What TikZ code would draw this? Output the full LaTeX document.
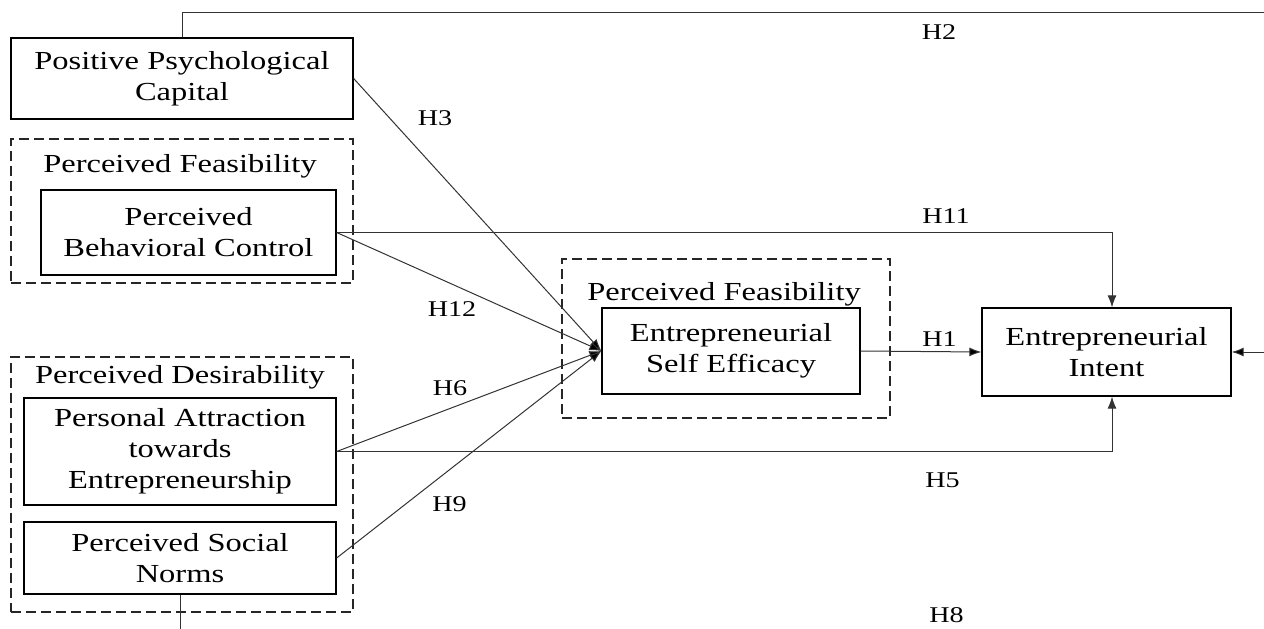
\documentclass[tikz,border=0pt]{standalone}
\usepackage{fontspec}
\setmainfont{Liberation Serif}[FakeStretch=1.25]
\usetikzlibrary{arrows.meta,calc}
\tikzset{
    box/.style =    {rectangle,
                    fill=white,
                    draw=black,
                    text=black,
                    line width=1.3pt,
                    align=center,
                    inner sep=0pt,
                    font=\fontsize{26}{31}\selectfont},
    group/.style =  {rectangle,
                    draw=black!85,
                    dash pattern=on 10pt off 5pt,
                    line width=1.1pt,
                    inner sep=0pt},
    grouplabel/.style = {anchor=base,
                    inner sep=0pt,
                    font=\fontsize{26}{31}\selectfont},
    hyp/.style =    {inner sep=0pt,
                    font=\fontsize{22.5}{26}\selectfont},
    link/.style =   {line width=1pt,
                    draw=black!80},
    >={Latex[length=12pt,width=9pt]}}

\begin{document}
\begin{tikzpicture}[x=1pt,y=-1pt]
                \useasboundingbox (0,0) rectangle (1264,629);

                % dashed groupings
                \node[group, minimum width=342pt, minimum height=144pt] (FA) at (182,211)   {};
                \node[group, minimum width=342pt, minimum height=255pt] (DA) at (182,484.5) {};
                \node[group, minimum width=328pt, minimum height=159pt] (FB) at (726,338.5) {};
                \node[grouplabel] (FAlab) at (180,172) {Perceived Feasibility};
                \node[grouplabel] (DAlab) at (180,383) {Perceived Desirability};
                \node[grouplabel] (FBlab) at (724,300) {Perceived Feasibility};

                % constructs
                \node[box, minimum width=342pt, minimum height=81pt]  (PPC) at (182,78.5)   {Positive Psychological\\Capital};
                \node[box, minimum width=295pt, minimum height=85pt]  (PBC) at (188.5,232.5) {Perceived\\Behavioral Control};
                \node[box, minimum width=312pt, minimum height=107pt] (PAE) at (180,451.5)  {Personal Attraction\\towards\\Entrepreneurship};
                \node[box, minimum width=312pt, minimum height=72pt]  (PSN) at (180,558)    {Perceived Social\\Norms};
                \node[box, minimum width=258pt, minimum height=86pt]  (ESE) at (731,351)    {Entrepreneurial\\Self Efficacy};
                \node[box, minimum width=249pt, minimum height=88pt]  (EI)  at (1106.5,352) {Entrepreneurial\\Intent};

                \coordinate (EIin) at (1112,352);
                \coordinate (top)  at (1290,12);
                \coordinate (side) at (1290,352);
                \coordinate (foot) at (180,660);

                \path [link,->]     (PPC.east) edge []      node [] {} (ESE.west)
                                    (PBC.east) edge []      node [] {} (ESE.west)
                                    (PAE.east) edge []      node [] {} (ESE.west)
                                    (PSN.east) edge []      node [] {} (ESE.west)
                                    (ESE.east) edge []      node [] {} (EI.west)
                                    (side)     edge []      node [] {} (EI.east);
                \draw [link,->] (PBC.east) -| (EIin |- EI.north);
                \draw [link,->] (PAE.east) -| (EIin |- EI.south);
                \draw [link] (PPC.north) |- (top);
                \draw [link] (PSN.south) -- (foot);

                % hypothesis labels
                \node[hyp] (h1)  at (939.5,339) {H1};
                \node[hyp] (h2)  at (939,32.5)  {H2};
                \node[hyp] (h3)  at (435,118.5) {H3};
                \node[hyp] (h5)  at (942.5,480) {H5};
                \node[hyp] (h6)  at (450,388)   {H6};
                \node[hyp] (h8)  at (946.5,615) {H8};
                \node[hyp] (h9)  at (449.5,504.5) {H9};
                \node[hyp] (h11) at (946,216.5) {H11};
                \node[hyp] (h12) at (452,308.7) {H12};
        \end{tikzpicture}
\end{document}
